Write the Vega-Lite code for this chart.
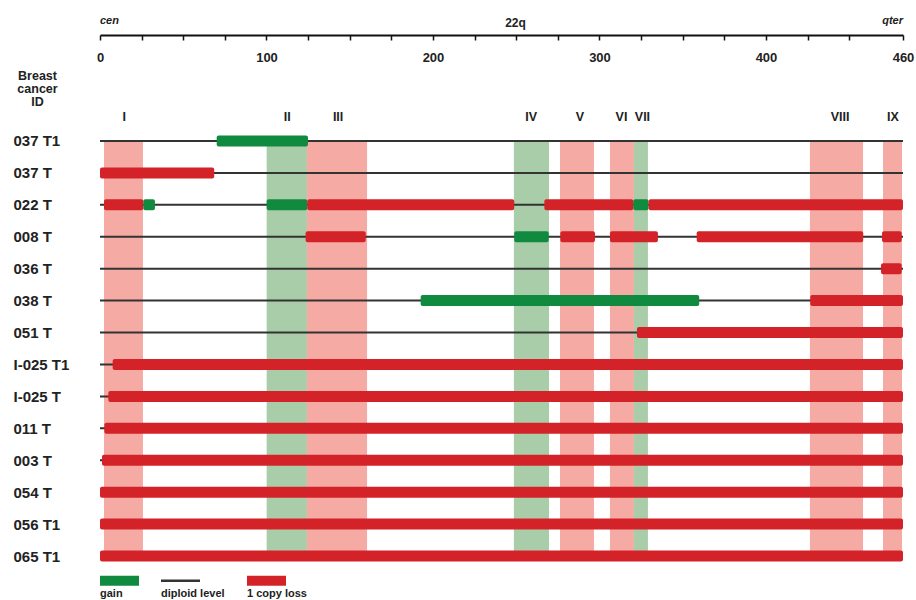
{
  "$schema": "https://vega.github.io/schema/vega-lite/v6.json",
  "width": 803,
  "height": 447,
  "autosize": {"type": "none"},
  "padding": {"left": 100, "top": 125, "right": 13, "bottom": 28},
  "background": "white",
  "config": {"view": {"stroke": null}, "font": "Liberation Sans"},
  "datasets": {
    "rows": [
      {"id": "037 T1"}, {"id": "037 T"}, {"id": "022 T"}, {"id": "008 T"}, {"id": "036 T"},
      {"id": "038 T"}, {"id": "051 T"}, {"id": "I-025 T1"}, {"id": "I-025 T"}, {"id": "011 T"},
      {"id": "003 T"}, {"id": "054 T"}, {"id": "056 T1"}, {"id": "065 T1"}
    ],
    "bands": [
      {"label": "I", "kind": "loss", "start": 2.4, "end": 25.8, "mid": 14.5},
      {"label": "II", "kind": "gain", "start": 100.1, "end": 124.3, "mid": 112.5},
      {"label": "III", "kind": "loss", "start": 124.3, "end": 160.4, "mid": 143},
      {"label": "IV", "kind": "gain", "start": 248.6, "end": 269.7, "mid": 259},
      {"label": "V", "kind": "loss", "start": 276.3, "end": 296.7, "mid": 288.3},
      {"label": "VI", "kind": "loss", "start": 306.3, "end": 320.7, "mid": 313.2},
      {"label": "VII", "kind": "gain", "start": 320.7, "end": 329.1, "mid": 325.8},
      {"label": "VIII", "kind": "loss", "start": 426.4, "end": 458.3, "mid": 444.5},
      {"label": "IX", "kind": "loss", "start": 470.3, "end": 481.7, "mid": 476.3}
    ],
    "segments": [
      {"id": "037 T1", "type": "gain", "start": 70.1, "end": 124.9},
      {"id": "037 T", "type": "1 copy loss", "start": 0, "end": 68.6},
      {"id": "022 T", "type": "1 copy loss", "start": 2.4, "end": 26.0},
      {"id": "022 T", "type": "gain", "start": 26.0, "end": 33.0},
      {"id": "022 T", "type": "gain", "start": 100.1, "end": 124.5},
      {"id": "022 T", "type": "1 copy loss", "start": 124.5, "end": 248.8},
      {"id": "022 T", "type": "1 copy loss", "start": 266.9, "end": 320.3},
      {"id": "022 T", "type": "gain", "start": 320.3, "end": 329.5},
      {"id": "022 T", "type": "1 copy loss", "start": 329.5, "end": 482.3},
      {"id": "008 T", "type": "1 copy loss", "start": 123.5, "end": 159.6},
      {"id": "008 T", "type": "gain", "start": 248.8, "end": 269.5},
      {"id": "008 T", "type": "1 copy loss", "start": 276.5, "end": 297.3},
      {"id": "008 T", "type": "1 copy loss", "start": 306.3, "end": 335.1},
      {"id": "008 T", "type": "1 copy loss", "start": 358.4, "end": 458.4},
      {"id": "008 T", "type": "1 copy loss", "start": 469.7, "end": 481.5},
      {"id": "036 T", "type": "1 copy loss", "start": 469.1, "end": 481.5},
      {"id": "038 T", "type": "gain", "start": 192.6, "end": 359.9},
      {"id": "038 T", "type": "1 copy loss", "start": 426.6, "end": 482.3},
      {"id": "051 T", "type": "1 copy loss", "start": 322.5, "end": 482.3},
      {"id": "I-025 T1", "type": "1 copy loss", "start": 7.6, "end": 482.3},
      {"id": "I-025 T", "type": "1 copy loss", "start": 5.0, "end": 482.3},
      {"id": "011 T", "type": "1 copy loss", "start": 2.6, "end": 482.3},
      {"id": "003 T", "type": "1 copy loss", "start": 1.2, "end": 482.3},
      {"id": "054 T", "type": "1 copy loss", "start": 0, "end": 482.3},
      {"id": "056 T1", "type": "1 copy loss", "start": 0, "end": 482.3},
      {"id": "065 T1", "type": "1 copy loss", "start": 0, "end": 482.3}
    ],
    "ends": [
      {"label": "cen", "pos": 0},
      {"label": "qter", "pos": 482.3}
    ]
  },
  "layer": [
    {
      "data": {"name": "bands"},
      "mark": {"type": "rect"},
      "encoding": {
        "x": {
          "field": "start", "type": "quantitative",
          "scale": {"domain": [0, 482.3], "nice": false, "zero": false},
          "axis": {
            "orient": "top", "offset": 90,
            "title": "22q", "titleX": 415, "titleY": -9, "titleBaseline": "alphabetic",
            "titleFontSize": 12, "titleFontWeight": "bold", "titleColor": "#222",
            "values": [0, 25, 50, 75, 100, 125, 150, 175, 200, 225, 250, 275, 300, 325, 350, 375, 400, 425, 450, 482.3],
            "labelExpr": "datum.value > 480 ? '460' : (datum.value % 100 === 0 ? datum.label : '')",
            "labelFlush": false, "labelOverlap": false,
            "labelFontSize": 13, "labelFontWeight": "bold", "labelColor": "#222",
            "labelBaseline": "top", "labelPadding": -11,
            "tickSize": -5, "tickColor": "#111", "tickWidth": 1.5,
            "domainColor": "#111", "domainWidth": 2, "grid": false
          }
        },
        "x2": {"field": "end"},
        "y": {
          "datum": "037 T1", "type": "nominal",
          "scale": {"type": "point", "padding": 0.5, "domain": ["037 T1", "037 T", "022 T", "008 T", "036 T", "038 T", "051 T", "I-025 T1", "I-025 T", "011 T", "003 T", "054 T", "056 T1", "065 T1"]},
          "axis": {
            "title": ["Breast", "cancer", "ID"], "titleAngle": 0, "titleAlign": "center", "titleBaseline": "top",
            "titleX": -63, "titleY": -56, "titleFontSize": 12.5, "titleFontWeight": "bold", "titleLineHeight": 13.2, "titleColor": "#222",
            "domain": false, "ticks": false, "tickSize": 0, "labelAlign": "left", "labelPadding": 87,
            "labelFontSize": 15, "labelFontWeight": "bold", "labelColor": "#222", "grid": false
          }
        },
        "y2": {"datum": "065 T1"},
        "color": {
          "condition": {"test": "datum.kind === 'gain'", "value": "#a9cda8"},
          "value": "#f6aaa4"
        }
      }
    },
    {
      "data": {"name": "bands"},
      "mark": {"type": "text", "dy": -24, "fontSize": 12.5, "fontWeight": "bold", "color": "#222", "baseline": "middle"},
      "encoding": {
        "x": {"field": "mid", "type": "quantitative"},
        "y": {"datum": "037 T1", "type": "nominal"},
        "text": {"field": "label"}
      }
    },
    {
      "data": {"name": "rows"},
      "mark": {"type": "rule", "strokeWidth": 2},
      "encoding": {
        "y": {"field": "id", "type": "nominal"},
        "x": {"datum": 0, "type": "quantitative"},
        "x2": {"datum": 482.3},
        "color": {
          "datum": "diploid level", "type": "nominal",
          "scale": {"domain": ["gain", "diploid level", "1 copy loss"], "range": ["#108a3e", "#333333", "#d42229"]}
        }
      }
    },
    {
      "data": {"name": "segments"},
      "mark": {"type": "bar", "size": 11, "cornerRadius": 2},
      "encoding": {
        "y": {"field": "id", "type": "nominal"},
        "x": {"field": "start", "type": "quantitative"},
        "x2": {"field": "end"},
        "color": {
          "field": "type", "type": "nominal",
          "scale": {"domain": ["gain", "diploid level", "1 copy loss"], "range": ["#108a3e", "#333333", "#d42229"]},
          "legend": {
            "title": null, "orient": "none", "legendX": 0, "legendY": 436, "direction": "horizontal", "padding": 0,
            "symbolType": "M-1,-0.26H1V0.26H-1Z", "symbolSize": 1521, "symbolStrokeWidth": 0, "symbolOpacity": 1,
            "labelOffset": -39, "labelFontSize": 11, "labelFontWeight": "bold", "labelColor": "#222", "labelBaseline": "top",
            "columnPadding": 22,
            "encode": {
              "symbols": {"update": {
                "shape": [{"test": "datum.value === 'diploid level'", "value": "M-1,-0.065H1V0.065H-1Z"}, {"value": "M-1,-0.26H1V0.26H-1Z"}],
                "fill": {"scale": "color", "field": "value"},
                "stroke": {"value": "transparent"}
              }},
              "labels": {"update": {"dy": {"value": 7}}}
            }
          }
        }
      }
    },
    {
      "data": {"name": "ends"},
      "transform": [{"filter": "datum.label === 'cen'"}],
      "mark": {"type": "text", "dy": -117, "align": "left", "baseline": "alphabetic", "fontSize": 11, "fontStyle": "italic", "fontWeight": "bold", "color": "#222"},
      "encoding": {
        "x": {"field": "pos", "type": "quantitative"},
        "y": {"datum": "037 T1", "type": "nominal"},
        "text": {"field": "label"}
      }
    },
    {
      "data": {"name": "ends"},
      "transform": [{"filter": "datum.label === 'qter'"}],
      "mark": {"type": "text", "dy": -117, "align": "right", "baseline": "alphabetic", "fontSize": 11, "fontStyle": "italic", "fontWeight": "bold", "color": "#222"},
      "encoding": {
        "x": {"field": "pos", "type": "quantitative"},
        "y": {"datum": "037 T1", "type": "nominal"},
        "text": {"field": "label"}
      }
    }
  ]
}
